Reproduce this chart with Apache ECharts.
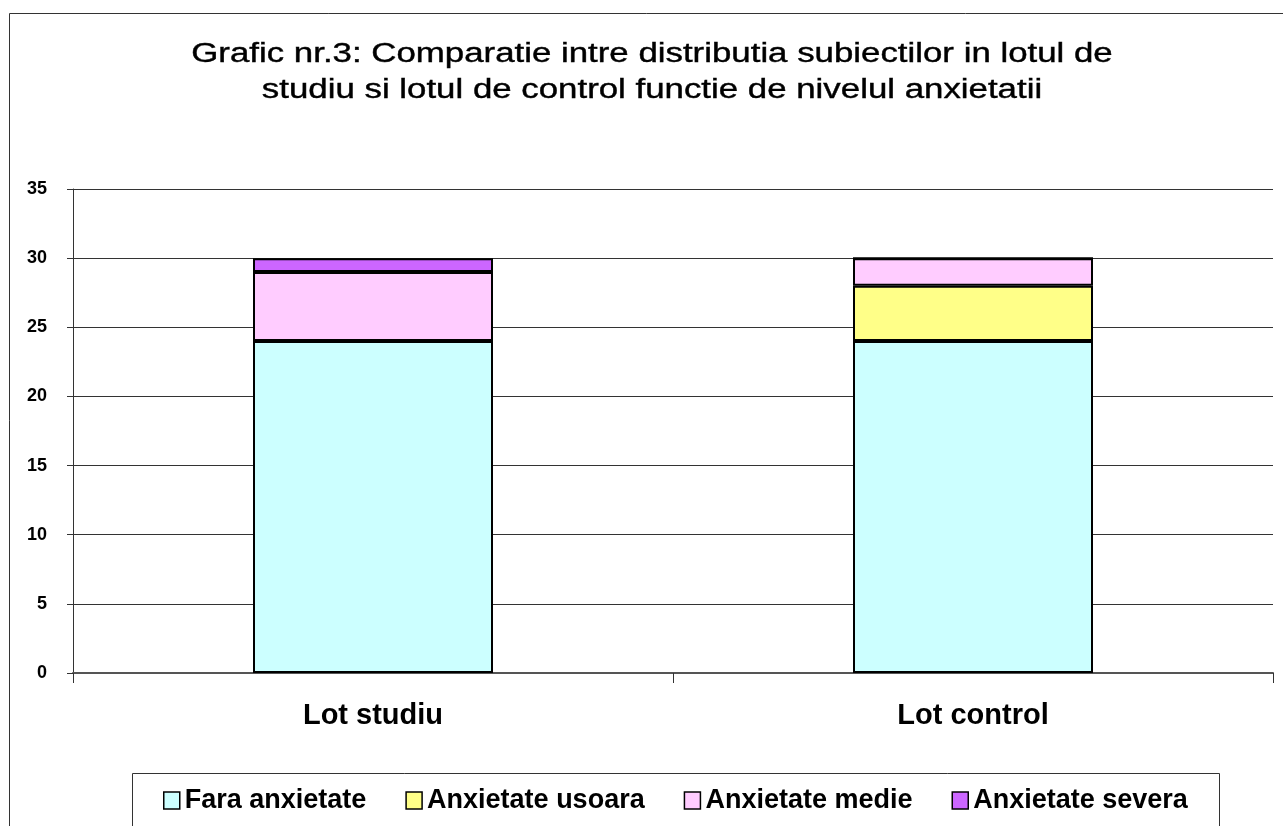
<!DOCTYPE html>
<html>
<head>
<meta charset="utf-8">
<script src="https://cdn.jsdelivr.net/npm/echarts@6/dist/echarts.min.js"></script>
<style>
  html, body { margin: 0; padding: 0; background: #fff; }
  #chart { width: 1283px; height: 826px; }
</style>
</head>
<body>
<div id="chart"></div>
<script>
// data
var categories = ['Lot studiu', 'Lot control'];
var seriesNames = ['Fara anxietate', 'Anxietate usoara', 'Anxietate medie', 'Anxietate severa'];
var faraAnxietate = [24, 24];
var anxietateUsoara = [0, 4];
var anxietateMedie = [5, 2];
var anxietateSevera = [1, 0];
var colors = ['#CCFFFF', '#FFFF88', '#FFCCFF', '#CC66FF'];
var yTicks = { min: 0, max: 35, interval: 5 };
var titleText = 'Grafic nr.3: Comparatie intre distributia subiectilor in lotul de\nstudiu si lotul de control functie de nivelul anxietatii';

var font = '"Liberation Sans", Arial, sans-serif';
var values = [faraAnxietate, anxietateUsoara, anxietateMedie, anxietateSevera];

var series = seriesNames.map(function (name, i) {
  return {
    name: name,
    type: 'bar',
    stack: 'total',
    barWidth: '40%',
    data: values[i],
    itemStyle: { color: colors[i], borderColor: '#000', borderWidth: 2 }
  };
});

var chart = echarts.init(document.getElementById('chart'));
chart.setOption({
  animation: false,
  backgroundColor: '#fff',
  graphic: [
    { type: 'rect', shape: { x: 9.5, y: 13.5, width: 1400, height: 900 },
      style: { fill: null, stroke: '#333', lineWidth: 1 }, z: -1 },
    { type: 'rect', shape: { x: 132.5, y: 773.5, width: 1087, height: 100 },
      style: { fill: '#fff', stroke: '#333', lineWidth: 1 }, z: 0 },
    // the title in the picture is drawn wide, so it is stretched sideways
    { type: 'text', x: 652, y: 37, scaleX: 1.29,
      style: { text: titleText, font: 'normal 27px ' + font, fill: '#000',
               stroke: '#000', lineWidth: 0.4,
               textAlign: 'center', textVerticalAlign: 'top', lineHeight: 36 } }
  ],
  legend: {
    data: seriesNames,
    left: 158,
    top: 782,
    itemWidth: 16,
    itemHeight: 17,
    itemGap: 39,
    z: 5,
    icon: 'rect',
    itemStyle: { borderColor: '#000', borderWidth: 1.5 },
    textStyle: { fontFamily: font, fontSize: 27, fontWeight: 'bold', color: '#000' }
  },
  grid: { left: 73, right: 10, top: 189, bottom: 153, containLabel: false },
  xAxis: {
    type: 'category',
    data: categories,
    axisLine: { lineStyle: { color: '#555', width: 2 } },
    axisTick: { show: true, length: 10, lineStyle: { color: '#333' } },
    axisLabel: { fontFamily: font, fontSize: 29, fontWeight: 'bold', color: '#000', margin: 28 }
  },
  yAxis: {
    type: 'value',
    min: yTicks.min,
    max: yTicks.max,
    interval: yTicks.interval,
    axisLine: { show: true, lineStyle: { color: '#333', width: 1 } },
    axisTick: { show: true, length: 6, lineStyle: { color: '#333' } },
    axisLabel: { fontFamily: font, fontSize: 18, fontWeight: 'bold', color: '#000', margin: 26 },
    splitLine: { lineStyle: { color: '#333', width: 1 } }
  },
  series: series
});
</script>
</body>
</html>
